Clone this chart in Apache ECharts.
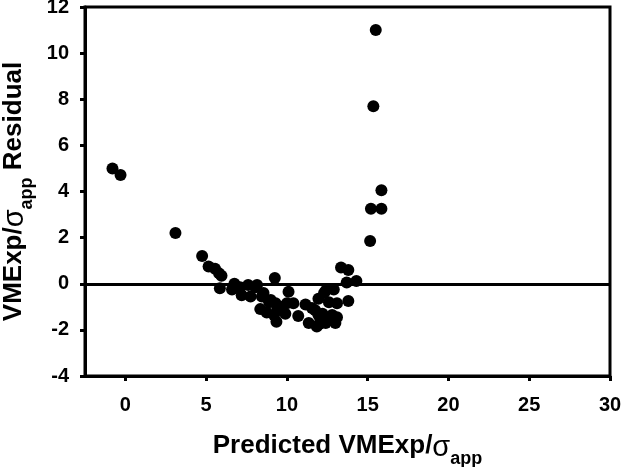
<!DOCTYPE html>
<html>
<head>
<meta charset="utf-8">
<script src="https://cdn.jsdelivr.net/npm/echarts@6/dist/echarts.min.js"></script>
<style>
  html, body { margin: 0; padding: 0; background: #fff; }
  #chart { width: 621px; height: 467px; }
</style>
</head>
<body>
<div id="chart"></div>
<script>
// predicted VMExp/sigma_app vs residual
const predicted = [
  -0.8, -0.3, 3.1, 4.75, 5.15, 5.55, 5.8, 5.95, 5.85, 6.6,
  6.75, 7.1, 7.2, 7.6, 7.75, 8.05, 8.15, 8.45, 8.55, 8.35,
  8.75, 8.9, 9.0, 9.25, 9.2, 9.3, 9.4, 9.35, 9.6, 10.0,
  10.1, 9.9, 10.4, 10.7, 11.15, 11.55, 11.75, 11.35, 11.85, 11.95,
  11.95, 12.0, 12.2, 12.3, 12.4, 12.4, 12.5, 12.6, 12.8, 12.9,
  13.0, 13.1, 13.1, 13.35, 13.8, 13.7, 14.3, 13.8, 15.5, 15.35,
  15.85, 15.2, 15.85, 15.15
]
const residual = [
  5.0, 4.72, 2.2, 1.2, 0.75, 0.65, 0.45, 0.35, -0.2, -0.25,
  0.0, -0.15, -0.5, -0.05, -0.55, -0.15, -0.05, -0.55, -0.4, -1.1,
  -1.25, -0.8, -0.7, 0.25, -1.35, -0.85, -1.15, -1.65, -1.0, -0.85,
  -0.35, -1.3, -0.85, -1.4, -0.9, -1.05, -1.15, -1.7, -1.85, -1.35,
  -0.65, -1.75, -1.3, -0.4, -0.3, -1.7, -1.55, -0.8, -1.35, -0.25,
  -1.7, -0.85, -1.45, 0.7, 0.6, 0.05, 0.12, -0.75, 11.0, 7.7,
  4.05, 3.25, 3.25, 1.85
]
const xTicks = [0, 5, 10, 15, 20, 25, 30]

const points = predicted.map((x, i) => [x, residual[i]])

const chart = echarts.init(document.getElementById('chart'))

const labelFont = {
  color: '#000',
  fontFamily: 'Liberation Sans',
  fontWeight: 700,
  fontSize: 20,
}

const nameRich = {
  a: { fontFamily: 'Liberation Sans', fontWeight: 700, fontSize: 26, color: '#000', lineHeight: 28, verticalAlign: 'top' },
  s: { fontFamily: 'Liberation Sans', fontWeight: 400, fontSize: 29, color: '#000', lineHeight: 28, verticalAlign: 'top' },
  sub: { fontFamily: 'Liberation Sans', fontWeight: 700, fontSize: 18, color: '#000', lineHeight: 35, verticalAlign: 'bottom' },
}

const option = {
  animation: false,
  backgroundColor: '#fff',
  grid: {
    left: 85,
    right: 11,
    top: 7,
    bottom: 91,
    outerBoundsMode: 'none',
    containLabel: false,
    show: true,
    borderColor: '#000',
    borderWidth: 3,
  },
  xAxis: {
    type: 'value',
    min: -2.5,
    max: 30,
    name: '{a|Predicted VMExp/}{s|σ}{sub|app}',
    nameLocation: 'middle',
    nameGap: 57,
    nameTextStyle: { rich: nameRich },
    axisLine: { onZero: false, lineStyle: { color: '#000', width: 3 } },
    axisTick: { inside: false, length: 5, customValues: xTicks, lineStyle: { color: '#000', width: 3 } },
    axisLabel: { ...labelFont, margin: 19, customValues: xTicks },
    splitLine: { show: false },
  },
  yAxis: {
    type: 'value',
    min: -4,
    max: 12,
    interval: 2,
    name: '{a|VMExp/}{s|σ}{sub|app}{a| Residual}',
    nameLocation: 'middle',
    nameRotate: 90,
    nameGap: 47,
    nameTextStyle: { rich: nameRich },
    axisLine: { onZero: false, lineStyle: { color: '#000', width: 3 } },
    axisTick: { inside: false, length: 5, lineStyle: { color: '#000', width: 3 } },
    axisLabel: { ...labelFont, margin: 16 },
    splitLine: { show: false },
  },
  series: [
    {
      type: 'scatter',
      data: points,
      symbol: 'circle',
      symbolSize: 12,
      itemStyle: { color: '#000', opacity: 1 },
      markLine: {
        silent: true,
        symbol: 'none',
        label: { show: false },
        lineStyle: { color: '#000', width: 3, type: 'solid' },
        data: [{ yAxis: 0 }],
      },
    },
  ],
}

chart.setOption(option)
</script>
</body>
</html>
